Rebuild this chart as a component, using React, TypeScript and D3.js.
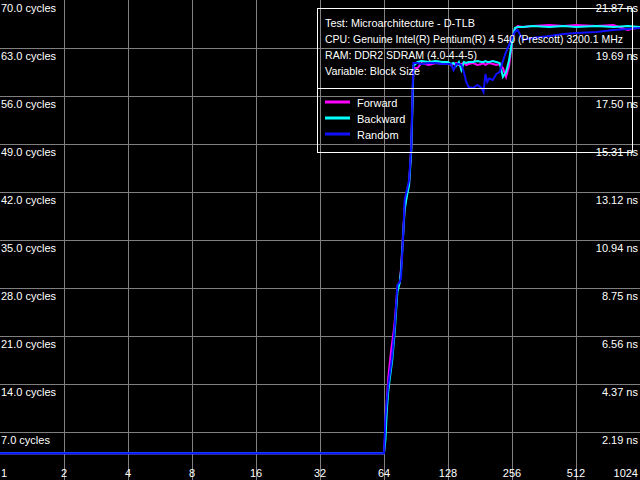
import React from "react";
import * as d3 from "d3";

const width = 640;
const height = 480;

// block size (KB) on a log2 axis
const sizes = [
  1, 2, 4, 8, 16, 32, 48, 64, 65, 66, 67, 68, 69, 70, 71, 72, 74, 76, 77, 78,
  79, 80, 82, 84, 86, 87, 88, 92, 96, 104, 112, 120, 128, 132, 136, 140, 144,
  148, 152, 156, 160, 168, 176, 184, 188, 192, 196, 200, 208, 216, 224, 232,
  240, 248, 256, 264, 272, 288, 320, 384, 448, 512, 640, 768, 896, 1024,
];

const forward = [
  3.9, 3.9, 3.9, 3.9, 3.9, 3.9, 3.9, 3.9, 7.29, 11.67, 14.88, 16.77, 18.67,
  20.13, 21.58, 23.33, 28.0, 28.88, 30.92, 33.83, 36.75, 39.67, 41.71, 43.31,
  48.42, 54.69, 60.08, 60.08, 60.81, 60.52, 60.81, 60.67, 60.81, 60.52, 60.67,
  60.81, 60.52, 60.67, 60.81, 60.52, 60.67, 60.81, 60.52, 60.67, 60.81, 60.52,
  60.67, 60.81, 60.67, 60.52, 60.67, 60.08, 58.77, 60.38, 63.88, 65.77, 66.21,
  66.06, 66.21, 66.35, 66.21, 66.35, 66.21, 66.35, 65.63, 66.06,
];

const backward = [
  3.9, 3.9, 3.9, 3.9, 3.9, 3.9, 3.9, 3.9, 5.83, 10.21, 12.83, 14.58, 16.04,
  17.5, 19.69, 21.88, 27.42, 28.88, 30.63, 33.54, 36.46, 39.38, 41.42, 43.02,
  48.13, 53.96, 60.38, 60.96, 61.1, 60.96, 61.1, 60.96, 60.96, 60.67, 60.81,
  60.38, 60.96, 59.79, 60.96, 60.81, 60.96, 60.96, 61.1, 60.96, 60.96, 61.1,
  60.96, 60.96, 61.1, 60.96, 60.81, 58.77, 59.5, 61.25, 63.9, 65.92, 66.06,
  66.06, 66.21, 66.06, 66.21, 66.06, 66.21, 66.06, 66.21, 66.06,
];

const random = [
  3.9, 3.9, 3.9, 3.9, 3.9, 3.9, 3.9, 3.9, 9.04, 11.67, 13.85, 15.31, 16.77,
  18.23, 20.42, 22.6, 28.44, 28.9, 29.6, 33.1, 36.5, 40.8, 42.3, 43.75, 48.85,
  55.42, 60.81, 60.81, 60.67, 60.81, 60.81, 60.67, 60.67, 60.67, 59.79, 60.67,
  60.67, 60.52, 59.5, 58.04, 57.31, 57.17, 57.6, 57.17, 56.58, 59.21, 58.04,
  58.54, 58.33, 59.21, 59.5, 61.1, 62.42, 63.44, 64.46, 65.33, 65.63, 64.17,
  64.46, 64.75, 65.04, 65.19, 65.33, 65.63, 65.77, 65.92,
];

const cycleTicks = [70, 63, 56, 49, 42, 35, 28, 21, 14, 7];
const nsLabels = [
  "21.87 ns", "19.69 ns", "17.50 ns", "15.31 ns", "13.12 ns",
  "10.94 ns", "8.75 ns", "6.56 ns", "4.37 ns", "2.19 ns",
];
const sizeTicks = [1, 2, 4, 8, 16, 32, 64, 128, 256, 512, 1024];

const infoLines = [
  "Test: Microarchitecture - D-TLB",
  "CPU: Genuine Intel(R) Pentium(R) 4 540 (Prescott) 3200.1 MHz",
  "RAM: DDR2 SDRAM (4.0-4-4-5)",
  "Variable: Block Size",
];
// measured widths of the info lines in the reference
const infoWidths = [150, 298, 152, 95];

const series = [
  { name: "Forward", values: forward, color: "#ff00ff" },
  { name: "Backward", values: backward, color: "#00ffff" },
  { name: "Random", values: random, color: "#1010ff" },
];

const x = d3.scaleLog().base(2).domain([1, 1024]).range([0, width]);
const y = d3.scaleLinear().domain([0, 70]).range([height, 0]);

const font = "'Liberation Sans', Arial, sans-serif";

const App = () => {
  const line = (vals: number[]) =>
    d3
      .line<number>()
      .x((_, i) => x(sizes[i]))
      .y((d) => y(d))(vals) || "";

  return (
    <div style={{ position: "fixed", left: 0, top: 0 }}>
      <svg width={width} height={height} style={{ display: "block" }}>
        <rect width={width} height={height} fill="#000" />
        {/* grid */}
        <g stroke="#808080" strokeWidth={1} shapeRendering="crispEdges">
          {sizeTicks.slice(1, -1).map((s) => (
            <line key={s} x1={x(s)} x2={x(s)} y1={0} y2={height} />
          ))}
          {cycleTicks.slice(1).map((c) => (
            <line key={c} x1={0} x2={width} y1={y(c)} y2={y(c)} />
          ))}
        </g>
        {/* axis labels */}
        <g fill="#fff" fontFamily={font} fontSize={11}>
          {cycleTicks.map((c) => (
            <text key={c} x={1} y={y(c) + 12}>
              {c.toFixed(1)} cycles
            </text>
          ))}
          {cycleTicks.map((c, i) => (
            <text key={c} x={638} y={y(c) + 12} textAnchor="end">
              {nsLabels[i]}
            </text>
          ))}
          {sizeTicks.map((s, i) => (
            <text
              key={s}
              x={i === 0 ? 1 : i === sizeTicks.length - 1 ? 638 : x(s)}
              y={477}
              textAnchor={
                i === 0 ? "start" : i === sizeTicks.length - 1 ? "end" : "middle"
              }
            >
              {s}
            </text>
          ))}
        </g>
        {/* data */}
        {series.map((s) => (
          <path
            key={s.name}
            d={line(s.values)}
            fill="none"
            stroke={s.color}
            strokeWidth={2}
          />
        ))}
        {/* legend */}
        <g shapeRendering="crispEdges" stroke="#fff" strokeWidth={1}>
          <rect x={317.5} y={8.5} width={315} height={144} fill="none" />
          <line x1={317} x2={633} y1={88.5} y2={88.5} />
        </g>
        <g fill="#fff" fontFamily={font} fontSize={11}>
          {infoLines.map((t, i) => (
            <text
              key={t}
              x={325}
              y={27 + i * 16}
              textLength={infoWidths[i]}
              lengthAdjust="spacingAndGlyphs"
            >
              {t}
            </text>
          ))}
          {series.map((s, i) => (
            <g key={s.name}>
              <line
                x1={325}
                x2={350}
                y1={102 + i * 16}
                y2={102 + i * 16}
                stroke={s.color}
                strokeWidth={3}
              />
              <text x={357} y={107 + i * 16}>
                {s.name}
              </text>
            </g>
          ))}
        </g>
      </svg>
    </div>
  );
};

export default App;
